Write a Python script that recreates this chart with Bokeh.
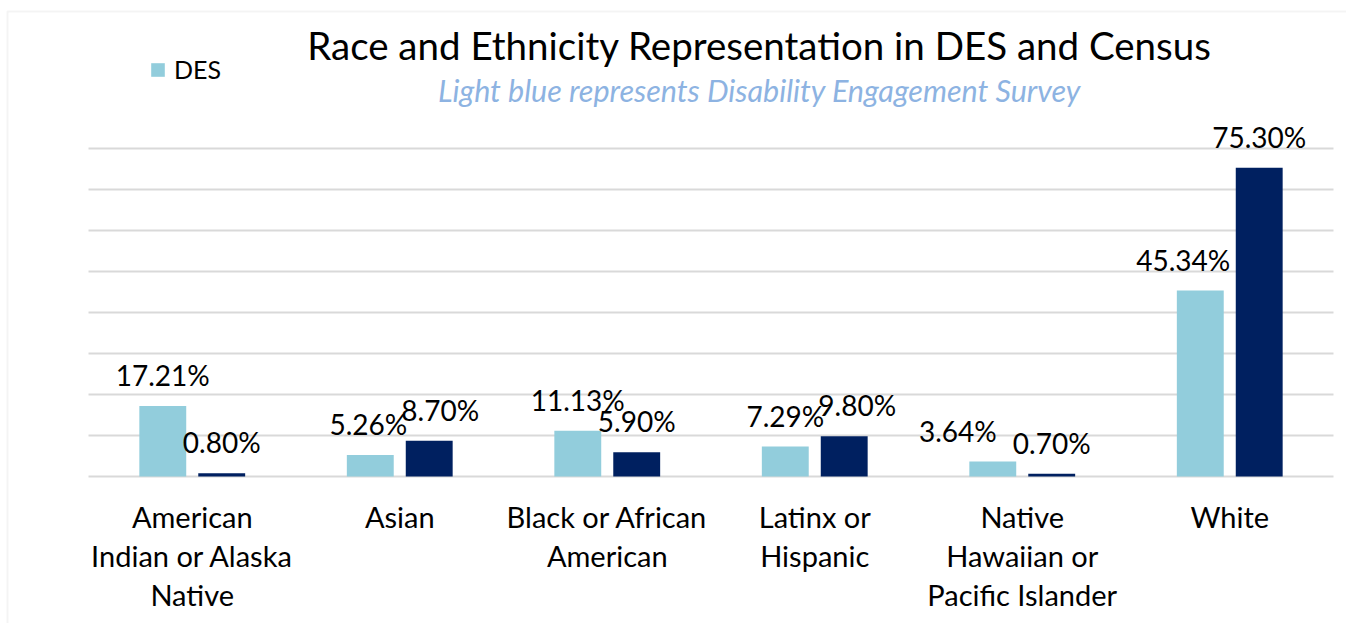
from bokeh.plotting import figure
from bokeh.models import (ColumnDataSource, Range1d, LabelSet, Label, Legend, LegendItem,
                          BoxAnnotation)
from bokeh.core.properties import value
from bokeh.embed import file_html
from bokeh.resources import INLINE

# ---- data ----
categories = ["American Indian or Alaska Native", "Asian", "Black or African American",
              "Latinx or Hispanic", "Native Hawaiian or Pacific Islander", "White"]
category_lines = ["American\nIndian or Alaska\nNative", "Asian", "Black or African\nAmerican",
                  "Latinx or\nHispanic", "Native\nHawaiian or\nPacific Islander", "White"]
des_values = [17.21, 5.26, 11.13, 7.29, 3.64, 45.34]
census_values = [0.80, 8.70, 5.90, 9.80, 0.70, 75.30]
y_ticks = [0, 10, 20, 30, 40, 50, 60, 70, 80]

title_text = "Race and Ethnicity Representation in DES and Census"
subtitle_text = "Light blue represents Disability Engagement Survey"

# ---- styling ----
DES_COLOR = "#92CDDC"
CENSUS_COLOR = "#002060"
GRID = "#D9D9D9"
FONT = "Lato"
des_label_nudge = [0, -2, 0, 0, -35, -17]      # px, label placement as in the original
census_label_nudge = [0, 11, 0, 13, 0, 0]

W, H = 1346, 623
PX_X = 207.5          # pixels per category slot
PX_Y = 4.1            # pixels per percent
LEFT, BASE = 88, 476  # page position of category 0 edge and of the 0 % line

n = len(categories)
centers = [i + 0.5 for i in range(n)]
OFF, BW = 0.142, 0.226

src = ColumnDataSource(dict(
    x_des=[c - OFF for c in centers],
    x_cen=[c + OFF for c in centers],
    des=des_values,
    census=census_values,
    des_lbl=[f"{v:.2f}%" for v in des_values],
    census_lbl=[f"{v:.2f}%" for v in census_values],
    des_dx=des_label_nudge,
    census_dx=census_label_nudge,
))

p = figure(x_range=Range1d(-LEFT / PX_X, (W - LEFT) / PX_X),
           y_range=Range1d(-(H - BASE) / PX_Y, BASE / PX_Y),
           width=W, height=H, output_backend="svg", toolbar_location=None,
           min_border=0)
p.outline_line_color = None
p.axis.visible = False
p.grid.visible = False

# horizontal gridlines across the category area
p.segment(x0=[0] * len(y_ticks), x1=[n] * len(y_ticks), y0=y_ticks, y1=y_ticks,
          line_color=GRID, line_width=2)

r_des = p.vbar(x="x_des", top="des", width=BW, source=src,
               fill_color=DES_COLOR, line_color=None)
r_cen = p.vbar(x="x_cen", top="census", width=BW, source=src,
               fill_color=CENSUS_COLOR, line_color=None)

for xcol, col, dx in (("x_des", "des", "des_dx"), ("x_cen", "census", "census_dx")):
    p.add_layout(LabelSet(x=xcol, y=col, text=col + "_lbl", source=src,
                          text_align="center", text_baseline="alphabetic",
                          x_offset=dx, y_offset=20, text_font=value(FONT),
                          text_font_size="28px", text_color="#000000"))

# category labels, one row per line
lx, ly, lt = [], [], []
for c, txt in zip(centers, category_lines):
    for i, line in enumerate(txt.split("\n")):
        lx.append(c)
        ly.append(H - 527 - 39 * i)
        lt.append(line)
cat_src = ColumnDataSource(dict(x=lx, y=ly, t=lt))
p.add_layout(LabelSet(x="x", y="y", text="t", y_units="screen", source=cat_src,
                      text_align="center", text_baseline="alphabetic",
                      text_font=value(FONT), text_font_size="29px", text_color="#000000"))

# title & subtitle
p.add_layout(Label(x=759, y=H - 44, x_units="screen", y_units="screen", text=title_text,
                   text_align="center", text_baseline="alphabetic", text_font=FONT,
                   text_font_size="38.5px", text_color="#000000"))
p.add_layout(Label(x=759, y=H - 89, x_units="screen", y_units="screen", text=subtitle_text,
                   text_align="center", text_baseline="alphabetic", text_font=FONT,
                   text_font_size="30.5px", text_font_style="italic", text_color="#8DB3E2"))

# legend (DES only)
legend = Legend(items=[LegendItem(label="DES", renderers=[r_des])], location=(149, H - 84),
                glyph_width=17, glyph_height=17, label_text_font=FONT,
                label_text_font_size="25px", label_text_color="#000000",
                label_standoff=8, padding=0, margin=0,
                background_fill_alpha=0, border_line_color=None)
p.add_layout(legend, "center")

# chart border
p.add_layout(BoxAnnotation(left=7, right=5000, top=H - 11, bottom=-5000,
                           left_units="screen", right_units="screen",
                           top_units="screen", bottom_units="screen",
                           fill_alpha=0, line_color=GRID, line_width=2))

open("out.html", "w").write(file_html(p, INLINE))
